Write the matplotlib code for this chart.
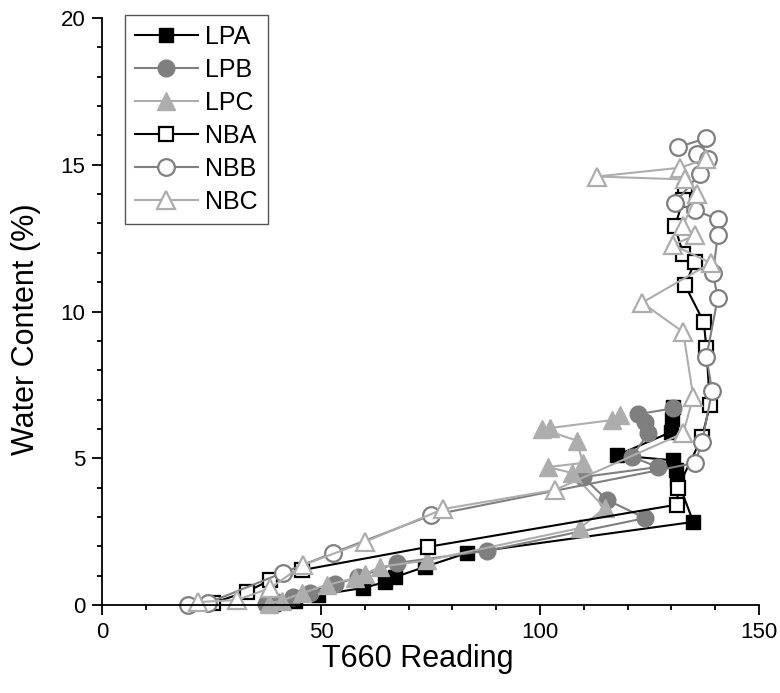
import matplotlib.pyplot as plt
from matplotlib.ticker import MultipleLocator

plt.rcParams['font.family'] = ['Liberation Sans', 'DejaVu Sans']

# T660 reading (x) and water content % (y) for each sample
LPA_x = [130.4, 130.2, 130.0, 117.6, 130.4, 131.0, 131.3, 135.0, 83.3, 73.7, 66.9, 64.6, 59.6, 49.3, 44.0, 39.0]
LPA_y = [6.75, 6.35, 5.9, 5.1, 4.93, 4.6, 4.3, 2.83, 1.77, 1.3, 0.95, 0.78, 0.58, 0.34, 0.15, 0.05]

LPB_x = [130.4, 122.4, 124.0, 124.7, 121.0, 126.9, 109.8, 115.3, 124.0, 88.0, 67.3, 58.5, 53.2, 47.5, 43.6, 40.0, 37.5]
LPB_y = [6.7, 6.5, 6.25, 5.85, 5.05, 4.7, 4.36, 3.58, 2.96, 1.85, 1.43, 0.95, 0.7, 0.4, 0.27, 0.1, 0.02]

LPC_x = [118.3, 116.4, 102.3, 100.5, 108.4, 109.8, 101.8, 107.3, 114.8, 109.1, 74.2, 63.5, 60.0, 57.8, 51.3, 45.6, 41.0, 38.0]
LPC_y = [6.47, 6.3, 6.03, 6.0, 5.6, 4.84, 4.7, 4.5, 3.3, 2.62, 1.52, 1.3, 1.05, 0.92, 0.68, 0.4, 0.15, 0.05]

NBA_x = [133.1, 132.7, 130.8, 132.7, 135.4, 133.1, 137.4, 138.0, 138.8, 137.0, 131.5, 131.3, 74.4, 45.7, 38.4, 33.0, 25.3]
NBA_y = [14.1, 13.8, 12.9, 11.95, 11.7, 10.9, 9.64, 8.76, 6.8, 5.72, 4.0, 3.42, 1.98, 1.19, 0.85, 0.45, 0.07]

NBB_x = [131.5, 137.9, 135.8, 138.4, 136.5, 130.8, 135.3, 140.6, 140.6, 139.5, 140.6, 138.0, 139.3, 137.0, 135.4, 75.0, 52.7, 41.3, 24.2, 19.5]
NBB_y = [15.6, 15.9, 15.35, 15.2, 14.7, 13.7, 13.45, 13.15, 12.6, 11.3, 10.46, 8.45, 7.3, 5.55, 4.84, 3.05, 1.77, 1.1, 0.07, 0.0]

NBC_x = [138.0, 132.0, 113.0, 133.0, 135.8, 132.6, 135.4, 130.4, 139.0, 123.3, 132.7, 135.0, 132.7, 103.4, 77.9, 60.0, 45.9, 38.4, 30.8, 21.9]
NBC_y = [15.2, 14.9, 14.6, 14.5, 14.0, 12.9, 12.6, 12.27, 11.65, 10.3, 9.3, 7.1, 5.85, 3.92, 3.27, 2.15, 1.36, 0.58, 0.17, 0.1]

fig = plt.figure(figsize=(7.8, 6.93), dpi=100)
ax = fig.add_axes([0.131, 0.127, 0.842, 0.847])

dark = '#7f7f7f'
light = '#adadad'

ax.plot(LPA_x, LPA_y, '-s', color='black', mfc='black', mec='black', ms=10.5, lw=1.5, label='LPA', clip_on=False)
ax.plot(LPB_x, LPB_y, '-o', color=dark, mfc=dark, mec=dark, ms=12, lw=1.5, label='LPB', clip_on=False)
ax.plot(LPC_x, LPC_y, '-^', color=light, mfc=light, mec=light, ms=13, lw=1.5, label='LPC', clip_on=False)
ax.plot(NBA_x, NBA_y, '-s', color='black', mfc='white', mec='black', ms=10.5, mew=1.6, lw=1.5, label='NBA', clip_on=False)
ax.plot(NBB_x, NBB_y, '-o', color=dark, mfc='white', mec=dark, ms=12, mew=1.6, lw=1.5, label='NBB', clip_on=False)
ax.plot(NBC_x, NBC_y, '-^', color=light, mfc='white', mec=light, ms=13, mew=1.6, lw=1.5, label='NBC', clip_on=False)

ax.set_xlim(0, 150)
ax.set_ylim(0, 20)
ax.xaxis.set_major_locator(MultipleLocator(50))
ax.xaxis.set_minor_locator(MultipleLocator(10))
ax.yaxis.set_major_locator(MultipleLocator(5))
ax.yaxis.set_minor_locator(MultipleLocator(1))
ax.tick_params(which='major', direction='out', length=7, width=1.3, labelsize=16, pad=5)
ax.tick_params(which='minor', direction='out', length=3.5, width=1.3)
ax.spines['top'].set_visible(False)
ax.spines['right'].set_visible(False)
ax.spines['left'].set_linewidth(1.3)
ax.spines['bottom'].set_linewidth(1.3)

ax.set_xlabel('T660 Reading', fontsize=22)
ax.set_ylabel('Water Content (%)', fontsize=22)
ax.xaxis.set_label_coords(0.48, -0.066)
ax.yaxis.set_label_coords(-0.093, 0.47)

leg = ax.legend(loc='upper left', bbox_to_anchor=(0.035, 1.005), borderaxespad=0,
                fontsize=18, fancybox=False, framealpha=1, edgecolor='#555555',
                handlelength=2.5, labelspacing=0.36, handletextpad=0.3, borderpad=0.4)
leg.get_frame().set_linewidth(1.0)

plt.savefig('out.png', dpi=100)
